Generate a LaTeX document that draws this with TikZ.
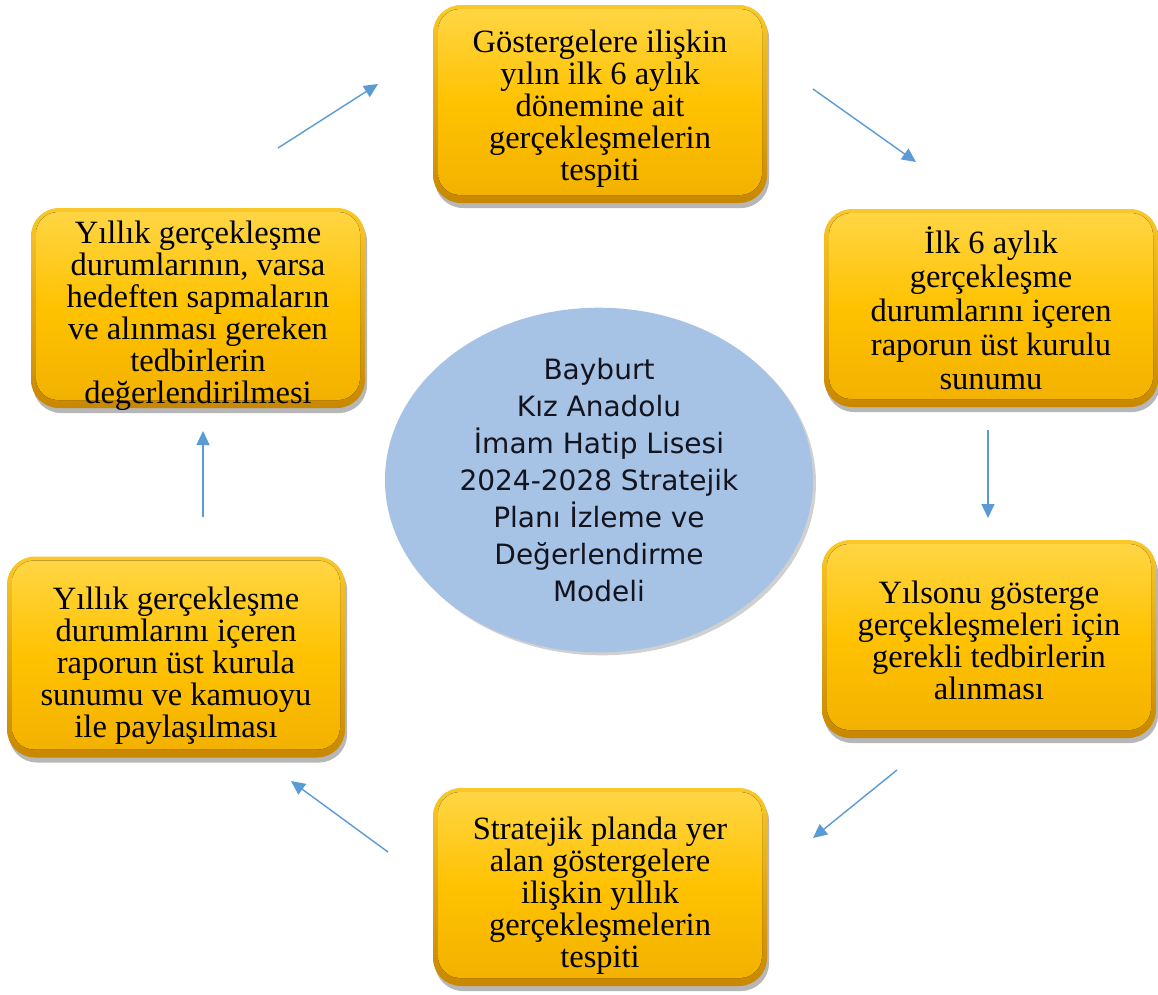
\documentclass[tikz,border=0pt]{standalone}
\usepackage{fontspec}
\setmainfont{Liberation Serif}
\newfontfamily\circfont{DejaVu Sans}
\usetikzlibrary{shadows,arrows.meta,shapes.geometric}
\definecolor{rimtop}{RGB}{250,200,40}
\definecolor{rimbot}{RGB}{200,135,0}
\definecolor{gtop}{RGB}{255,214,70}
\definecolor{gmid}{RGB}{255,194,0}
\definecolor{gbot}{RGB}{242,176,0}
\definecolor{circfill}{RGB}{166,194,228}
\definecolor{arrowblue}{RGB}{91,155,213}
\definecolor{circtext}{RGB}{20,20,30}
\tikzset{
  box/.style={rounded corners=28pt, top color=rimtop, bottom color=rimbot,
    minimum width=334pt, minimum height=198pt, inner sep=0pt,
    drop shadow={shadow xshift=2pt, shadow yshift=-5pt, opacity=0.4, fill=black!70},
    path picture={\fill[top color=gtop, bottom color=gbot, middle color=gmid, rounded corners=22pt]
      ([shift={(5pt,-4pt)}]path picture bounding box.north west) rectangle
      ([shift={(-5pt,8pt)}]path picture bounding box.south east);}},
  btext/.style={align=center, inner sep=0pt, font=\fontsize{32.5}{32}\selectfont},
  flow/.style={draw=arrowblue, line width=1.4pt, -{Triangle[length=14pt,width=13pt]}},
}
\begin{document}
\begin{tikzpicture}[x=1pt,y=-1pt]
\useasboundingbox[fill=white] (0,0) rectangle (1158,994);
% central ellipse
\node[ellipse, fill=circfill, minimum width=428pt, minimum height=336pt, inner sep=0pt,
  drop shadow={shadow xshift=3pt, shadow yshift=-3pt, opacity=0.3, fill=black!60},
  align=center, font=\circfont\fontsize{28}{37}\selectfont, text=circtext]
  (c) at (599,480) {Bayburt\\Kız Anadolu\\İmam Hatip Lisesi\\2024-2028 Stratejik\\Planı İzleme ve\\Değerlendirme\\Modeli};
% boxes
\node[box] (b1) at (600,104) {};
\node[btext] (b1t) at ([yshift=-5pt]b1.center) {Göstergelere ilişkin\\yılın ilk 6 aylık\\dönemine ait\\gerçekleşmelerin\\tespiti};
\node[box] (b2) at (991,308) {};
\node[btext, font=\fontsize{32.5}{34}\selectfont] (b2t) at (b2.center) {İlk 6 aylık\\gerçekleşme\\durumlarını içeren\\raporun üst kurulu\\sunumu};
\node[box] (b3) at (989,639) {};
\node[btext] (b3t) at ([yshift=-1pt]b3.center) {Yılsonu gösterge\\gerçekleşmeleri için\\gerekli tedbirlerin\hspace*{34pt}\\alınması};
\node[box] (b4) at (600,887) {};
\node[btext] (b4t) at ([yshift=-9pt]b4.center) {Stratejik planda yer\\alan göstergelere\\ilişkin yıllık\\gerçekleşmelerin\\tespiti};
\node[box, minimum width=338pt, minimum height=201pt] (b5) at (176,657) {};
\node[btext] (b5t) at ([yshift=-9pt]b5.center) {Yıllık gerçekleşme\\durumlarını içeren\\raporun üst kurula\\sunumu ve kamuoyu\\ile paylaşılması};
\node[box, minimum height=200pt] (b6) at (198,308) {};
\node[btext] (b6t) at ([yshift=-8pt]b6.center) {Yıllık gerçekleşme\\durumlarının, varsa\\hedeften sapmaların\\ve alınması gereken\\tedbirlerin\\değerlendirilmesi};
% arrow end points
\coordinate (a1s) at (278,148); \coordinate (a1e) at (378,84);
\coordinate (a2s) at (813,89);  \coordinate (a2e) at (916,162);
\coordinate (a3s) at (988,430); \coordinate (a3e) at (988,518);
\coordinate (a4s) at (897,770); \coordinate (a4e) at (813,838);
\coordinate (a5s) at (388,852); \coordinate (a5e) at (291,781);
\coordinate (a6s) at (203,517); \coordinate (a6e) at (203,431);
\draw[flow] (a1s) -- (a1e);
\draw[flow] (a2s) -- (a2e);
\draw[flow] (a3s) -- (a3e);
\draw[flow] (a4s) -- (a4e);
\draw[flow] (a5s) -- (a5e);
\draw[flow] (a6s) -- (a6e);
\end{tikzpicture}
\end{document}
